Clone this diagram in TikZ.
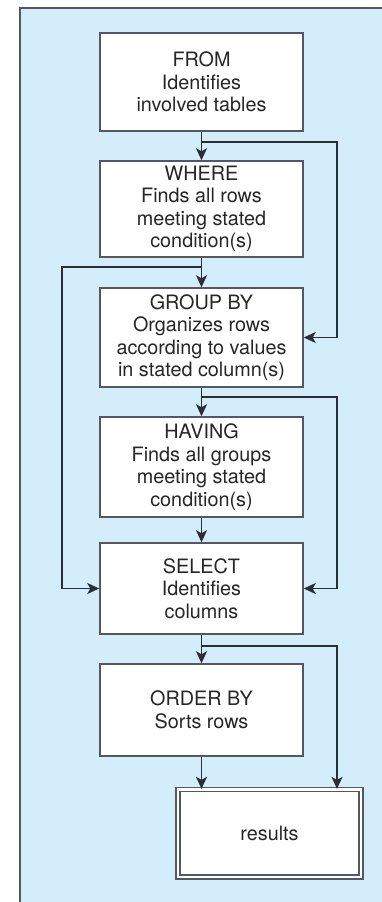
\documentclass[tikz,border=0pt]{standalone}
\usepackage{fontspec}
\setmainfont{TeX Gyre Heros}
\usetikzlibrary{arrows.meta}
\definecolor{panel}{HTML}{D4EDFB}
\definecolor{boxline}{HTML}{55585E}
\definecolor{arrline}{HTML}{2A2E36}
\definecolor{txt}{HTML}{262626}
\begin{document}
\begin{tikzpicture}[x=1pt,y=-1pt,
  stepbox/.style={draw=boxline, line width=1.5pt, fill=white, inner sep=0pt,
    minimum width=203pt, align=center, text=txt,
    font=\fontsize{19.8}{22.5}\selectfont},
  arr/.style={draw=arrline, line width=1.5pt, -{Stealth[length=12pt,width=11pt,inset=3pt]}},
  ln/.style={draw=arrline, line width=1.5pt}]
\useasboundingbox (0,0) rectangle (381,902);
\fill[panel] (20,8) rectangle (385,906);
\draw[boxline, line width=1.6pt] (20,906) -- (20,8) -- (385,8);

\node[stepbox, minimum height=98pt] (from) at (201.5,82) {FROM\\Identifies\\involved tables};
\node[stepbox, minimum height=96pt] (where) at (201.5,209) {WHERE\\Finds all rows\\meeting stated\\condition(s)};
\node[stepbox, minimum height=99pt] (group) at (201.5,337.5) {GROUP BY\\Organizes rows\\according to values\\in stated column(s)};
\node[stepbox, minimum height=100pt] (having) at (201.5,467) {HAVING\\Finds all groups\\meeting stated\\condition(s)};
\node[stepbox, minimum height=91pt] (select) at (201.5,588.5) {SELECT\\Identifies\\columns};
\node[stepbox, minimum height=92pt] (order) at (201.5,710) {ORDER BY\\Sorts rows};
\node[draw=boxline, line width=1.3pt, double=white, double distance=2.7pt, fill=white,
  inner sep=0pt, minimum width=183pt, minimum height=87.5pt, text=txt,
  font=\fontsize{19.8}{22.5}\selectfont] (results) at (269.5,833.25) {results};

\coordinate (b1) at (202,142);
\coordinate (r1) at (337,142);
\coordinate (b2) at (202,267);
\coordinate (l2) at (62,267);
\coordinate (b3) at (202,397);
\coordinate (r3) at (337,397);
\coordinate (b4) at (202,646);
\coordinate (r4) at (337,646);

\draw[arr] (from.south) -- (where.north);
\draw[arr] (b1) -- (r1) |- (group.east);
\draw[arr] (where.south) -- (group.north);
\draw[arr] (b2) -- (l2) |- (select.west);
\draw[arr] (group.south) -- (having.north);
\draw[arr] (b3) -- (r3) |- (select.east);
\draw[arr] (having.south) -- (select.north);
\draw[arr] (select.south) -- (order.north);
\draw[arr] (b4) -- (r4) -- (r4 |- results.north);
\draw[arr] (order.south) -- (order.south |- results.north);
\end{tikzpicture}
\end{document}
